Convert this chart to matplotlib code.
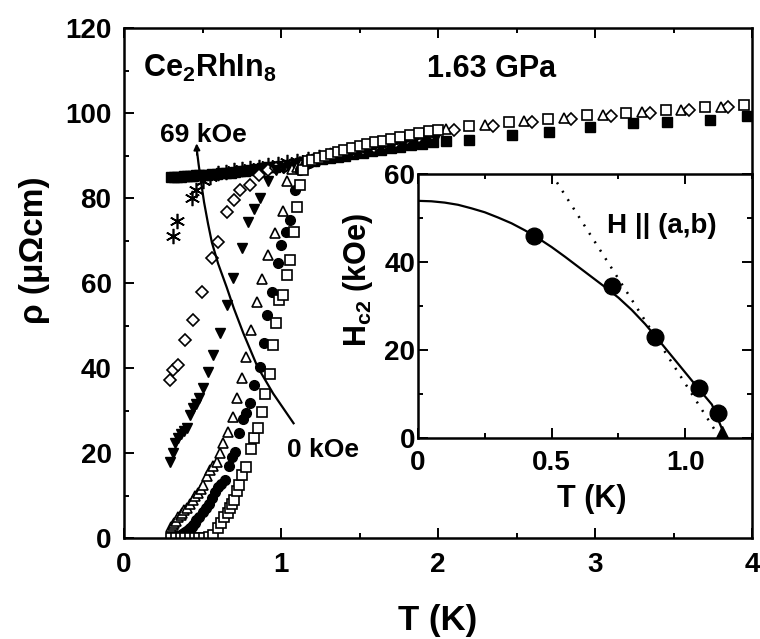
import matplotlib
matplotlib.use("Agg")
import matplotlib.pyplot as plt
from matplotlib.ticker import MultipleLocator

plt.rcParams["font.family"] = ["Liberation Sans", "DejaVu Sans"]
plt.rcParams["font.weight"] = "bold"
plt.rcParams["axes.labelweight"] = "bold"
plt.rcParams["mathtext.fontset"] = "custom"
plt.rcParams["mathtext.rm"] = "Liberation Sans:bold"
plt.rcParams["mathtext.it"] = "Liberation Sans:bold"

# resistivity curves, rho (uOhm cm) vs T (K), one per applied field
T_0k = [0.30, 0.33, 0.36, 0.39, 0.42, 0.45, 0.48, 0.51, 0.54, 0.57, 0.60, 0.62, 0.64, 0.66,
        0.675, 0.69, 0.70, 0.72, 0.73, 0.75, 0.78, 0.81, 0.83, 0.855, 0.877, 0.90, 0.93,
        0.95, 0.97, 0.99, 1.01, 1.04, 1.06, 1.08, 1.10, 1.12, 1.14,
        1.17, 1.20, 1.24, 1.28, 1.32, 1.36, 1.40, 1.45, 1.50, 1.55, 1.60, 1.65, 1.70, 1.76,
        1.82, 1.88, 1.94, 2.0, 2.2, 2.45, 2.7, 2.95, 3.2, 3.45, 3.7, 3.95]
rho_0k = [0, 0, 0, 0, 0, 0, 0, 0, 0.2, 0.6, 2.3, 3.5, 5, 6,
          7, 8, 9, 11, 12.5, 14.8, 16.8, 21, 23.5, 25.8, 29.7, 34, 38.7,
          45.4, 50.5, 56, 57.2, 62, 65.4, 72, 78, 83, 86.5,
          88.6, 89.0, 89.5, 89.9, 90.4, 90.8, 91.2, 91.7, 92.2, 92.7, 93.1, 93.5, 93.9, 94.4,
          94.9, 95.3, 95.7, 96.1, 96.9, 97.9, 98.7, 99.5, 100.1, 100.7, 101.4, 102.0]

T_5k = [0.30, 0.31, 0.32, 0.33, 0.34, 0.35, 0.36, 0.37, 0.38, 0.39, 0.40, 0.41, 0.42, 0.43,
        0.44, 0.45, 0.46, 0.48, 0.50, 0.52, 0.54, 0.56, 0.58, 0.60, 0.62, 0.643, 0.67, 0.69,
        0.707, 0.73, 0.76, 0.78, 0.80, 0.83, 0.866, 0.89, 0.91, 0.94, 0.98, 1.0, 1.03, 1.06,
        1.09, 1.12, 1.15, 1.18, 1.22, 1.26, 1.30, 1.34, 1.38, 1.43, 1.48, 1.53, 1.58, 1.63,
        1.68, 1.73, 1.79, 1.85, 1.91, 1.97]
rho_5k = [0, 0.1, 0.2, 0.3, 0.4, 0.5, 0.7, 0.9, 1.1, 1.4, 1.7, 2.0, 2.3, 2.7,
          3.1, 3.5, 4.2, 5.0, 6.2, 7.0, 8.0, 9.4, 10.9, 12.0, 12.8, 13.6, 17, 19,
          20.3, 24.6, 28, 29.5, 31.7, 36, 40.3, 46, 52.5, 58, 64.6, 69, 72, 74.8,
          82, 86.5, 87.8, 88.3, 88.8, 89.3, 89.8, 90.2, 90.6, 91.1, 91.6, 92.1, 92.6, 93.0,
          93.4, 93.8, 94.3, 94.8, 95.2, 95.6]

T_11k = [0.30, 0.31, 0.32, 0.33, 0.346, 0.36, 0.37, 0.385, 0.40, 0.42, 0.44, 0.455, 0.47,
         0.49, 0.505, 0.53, 0.55, 0.57, 0.59, 0.61, 0.63, 0.66, 0.696, 0.72, 0.75, 0.78,
         0.81, 0.845, 0.88, 0.92, 0.96, 1.015, 1.04,
         1.07, 1.10, 1.13, 1.17, 1.21, 1.25, 1.30, 1.35, 1.40, 1.45, 1.51, 1.57, 1.63, 1.69,
         1.75, 1.82, 1.89, 1.96, 2.05, 2.3, 2.55, 2.8, 3.05, 3.3, 3.55, 3.8]
rho_11k = [2.5, 3, 3.5, 4, 5, 5.5, 6, 6.5, 7, 8, 9, 9.8, 10.5,
           11.5, 12.5, 14.5, 16, 17, 18, 20, 22.3, 25, 28.5, 33, 37.6, 42.7,
           49, 55.6, 61, 66.6, 71.7, 77, 84,
           86.8, 87.4, 88.0, 88.5, 89.0, 89.4, 90.0, 90.5, 91.0, 91.5, 92.0, 92.6, 93.1, 93.6,
           94.1, 94.6, 95.1, 95.6, 96.2, 97.2, 98.1, 98.9, 99.6, 100.2, 100.8, 101.4]

T_23k = [0.29, 0.31, 0.325, 0.345, 0.36, 0.38, 0.40, 0.42, 0.44, 0.46, 0.48, 0.505, 0.537,
         0.57, 0.61, 0.654, 0.696, 0.75, 0.79, 0.83, 0.866, 0.92, 0.97,
         1.01, 1.05, 1.09, 1.13, 1.17, 1.22, 1.27, 1.32, 1.37, 1.42, 1.48, 1.54, 1.60, 1.66,
         1.72, 1.79, 1.86, 1.93, 2.0]
rho_23k = [18, 20, 22.3, 23.5, 24.5, 25.2, 25.8, 29, 30.5, 31.5, 33, 35.2, 39.1,
           43, 48.2, 54.8, 61.1, 68.2, 74.4, 77.5, 80, 84, 86.5,
           87.0, 87.4, 87.8, 88.2, 88.6, 89.1, 89.5, 90.0, 90.4, 90.9, 91.4, 91.9, 92.4, 92.9,
           93.3, 93.8, 94.3, 94.8, 95.2]

T_34k = [0.293, 0.31, 0.346, 0.39, 0.44, 0.495, 0.56, 0.60, 0.654, 0.70, 0.74, 0.80, 0.86,
         0.92, 0.97, 1.02, 1.07, 1.12, 1.17, 1.22, 1.28, 1.34, 1.40, 1.46, 1.52, 1.59, 1.66,
         1.73, 1.80, 1.88, 1.96, 2.1, 2.35, 2.6, 2.85, 3.1, 3.35, 3.6, 3.85]
rho_34k = [37.2, 39.5, 40.7, 46.6, 51.3, 58, 65.8, 69.7, 76.8, 79.5, 81.9, 83, 85.5,
           86.5, 87.0, 87.4, 87.8, 88.2, 88.6, 89.0, 89.5, 90.0, 90.5, 91.0, 91.5, 92.1, 92.7,
           93.2, 93.8, 94.4, 95.0, 95.9, 97.0, 97.9, 98.7, 99.4, 100.1, 100.7, 101.3]

T_46k = [0.31, 0.34, 0.43, 0.46, 0.50, 0.55, 0.60, 0.65, 0.70, 0.75, 0.80, 0.86, 0.92, 0.98,
         1.04, 1.10, 1.17, 1.24, 1.31, 1.38, 1.45, 1.53, 1.61, 1.69, 1.77, 1.86, 1.95]
rho_46k = [71, 74.5, 80, 82, 84, 85, 85.8, 86.2, 86.5, 86.8, 87.1, 87.4, 87.7, 88.0,
           88.4, 88.8, 89.2, 89.7, 90.2, 90.7, 91.2, 91.8, 92.4, 92.9, 93.5, 94.1, 94.7]

T_69k = [0.30, 0.32, 0.34, 0.36, 0.38, 0.40, 0.42, 0.44, 0.46, 0.48, 0.50, 0.53, 0.56, 0.59,
         0.62, 0.65, 0.68, 0.71, 0.74, 0.77, 0.80, 0.84, 0.88, 0.92, 0.96, 1.00, 1.04, 1.08,
         1.12, 1.16, 1.21, 1.26, 1.31, 1.36, 1.41, 1.46, 1.52, 1.58, 1.64, 1.70, 1.76, 1.83,
         1.90, 1.97, 2.05, 2.2, 2.47, 2.71, 2.97, 3.24, 3.46, 3.73, 3.97]
rho_69k = [85, 85, 85, 85, 85.1, 85.1, 85.2, 85.2, 85.3, 85.3, 85.4, 85.5, 85.6, 85.7,
           85.8, 85.9, 86.0, 86.1, 86.3, 86.4, 86.6, 86.8, 87.0, 87.2, 87.4, 87.6, 87.8, 88.0,
           88.3, 88.5, 88.8, 89.1, 89.4, 89.7, 90.0, 90.3, 90.6, 91.0, 91.3, 91.7, 92.0, 92.4,
           92.8, 93.1, 93.3, 93.6, 94.8, 95.5, 96.7, 97.6, 98.0, 98.4, 99.2]

# guide line running from the 0 kOe curve to the 69 kOe curve
T_guide = [1.08, 0.95, 0.85, 0.76, 0.70, 0.654, 0.60, 0.56, 0.535, 0.51, 0.49, 0.475, 0.465]
rho_guide = [27, 34, 40.3, 48.2, 54, 59, 64.5, 69.5, 74, 79, 84, 88, 91]

# upper critical field, H || (a,b)
T_hc2 = [0.433, 0.726, 0.887, 1.052, 1.124]
H_hc2 = [46, 34.5, 23, 11.3, 5.6]
T_c0 = [1.138]
H_c0 = [0]
T_fit = [0, 0.05, 0.1, 0.15, 0.2, 0.25, 0.3, 0.35, 0.4, 0.45, 0.5, 0.55, 0.6, 0.65, 0.7,
         0.75, 0.8, 0.85, 0.9, 0.95, 1.0, 1.05, 1.1, 1.145]
H_fit = [53.9, 53.8, 53.5, 53.0, 52.2, 51.3, 50.1, 48.8, 47.2, 45.4, 43.4, 41.2, 38.9, 36.6,
         34.3, 31.9, 29.1, 25.9, 22.3, 18.6, 14.9, 11.2, 7.6, 1.0]
T_orb = [0.50, 1.13]
H_orb = [60, 0]

fig = plt.figure(figsize=(7.6, 6.39), dpi=100)
ax = fig.add_axes([124 / 760, 1 - 538 / 639, 628 / 760, 510 / 639])

ms = 6.5
open_kw = dict(ls="none", mfc="white", mec="black", mew=1.2, ms=ms)
fill_kw = dict(ls="none", color="black", ms=ms)
ax.plot(T_69k, rho_69k, marker="s", **fill_kw)
ax.plot(T_46k, rho_46k, marker=(6, 2, 0), ls="none", color="black", ms=11, mew=1.2)
ax.plot(T_34k, rho_34k, marker="D", **{**open_kw, "ms": 6})
ax.plot(T_23k, rho_23k, marker="v", **{**fill_kw, "ms": 7.5})
ax.plot(T_11k, rho_11k, marker="^", **{**open_kw, "ms": 7})
ax.plot(T_5k, rho_5k, marker="o", **{**fill_kw, "ms": 7})
ax.plot(T_0k, rho_0k, marker="s", **open_kw)

ax.plot(T_guide, rho_guide, color="black", lw=1.6)
ax.annotate("", xy=(0.462, 93.5), xytext=(0.466, 89.5),
            arrowprops=dict(arrowstyle="-|>", color="black", lw=1.4, mutation_scale=9))

ax.set_xlim(0, 4)
ax.set_ylim(0, 120)
ax.xaxis.set_major_locator(MultipleLocator(1))
ax.xaxis.set_minor_locator(MultipleLocator(0.5))
ax.yaxis.set_major_locator(MultipleLocator(20))
ax.yaxis.set_minor_locator(MultipleLocator(10))
ax.tick_params(which="both", direction="in", top=True, right=False, width=1.4)
ax.tick_params(which="major", length=7, labelsize=20)
ax.tick_params(axis="x", which="major", pad=10)
ax.tick_params(axis="y", which="major", pad=9)
ax.tick_params(which="minor", length=3.5)
for s in ax.spines.values():
    s.set_linewidth(1.8)

ax.set_xlabel("T (K)", fontsize=25)
ax.xaxis.set_label_coords(0.5, -0.13)
ax.set_ylabel("ρ (μΩcm)", fontsize=24)
ax.yaxis.set_label_coords(-0.118, 0.565)

ax.text(0.12, 108.5, "Ce$_2$RhIn$_8$", fontsize=22, va="baseline")
ax.text(1.93, 108.5, "1.63 GPa", fontsize=22, va="baseline")
ax.text(0.23, 93.2, "69 kOe", fontsize=19, va="baseline")
ax.text(1.04, 19, "0 kOe", fontsize=19, va="baseline")

# inset: H_c2(T)
ins = fig.add_axes([418 / 760, 1 - 438 / 639, 334 / 760, 264 / 639])
ins.set_facecolor("white")
ins.plot(T_fit, H_fit, color="black", lw=1.6)
ins.plot(T_orb, H_orb, color="black", lw=1.8, ls=(0, (0.8, 3.2)))
ins.plot(T_hc2, H_hc2, ls="none", marker="o", color="black", ms=12)
ins.plot(T_c0, H_c0, ls="none", marker="^", color="black", ms=17)
ins.set_xlim(0, 1.25)
ins.set_ylim(0, 60)
ins.set_xticks([0, 0.5, 1.0])
ins.set_xticklabels(["0", "0.5", "1.0"])
ins.xaxis.set_minor_locator(MultipleLocator(0.25))
ins.yaxis.set_major_locator(MultipleLocator(20))
ins.yaxis.set_minor_locator(MultipleLocator(10))
ins.tick_params(which="both", direction="in", top=True, right=True, width=1.4)
ins.tick_params(which="major", length=7, labelsize=20)
ins.tick_params(axis="x", which="major", pad=9)
ins.tick_params(axis="y", which="major", pad=2)
ins.tick_params(which="minor", length=3.5)
for s in ins.spines.values():
    s.set_linewidth(1.8)
ins.set_xlabel("T (K)", fontsize=22)
ins.xaxis.set_label_coords(0.52, -0.175)
ins.set_ylabel("H$_{\\mathrm{c2}}$ (kOe)", fontsize=22)
ins.yaxis.set_label_coords(-0.13, 0.6)
ins.text(0.709, 46.6, "H || (a,b)", fontsize=20, va="baseline")

fig.savefig("out.png", dpi=100)
